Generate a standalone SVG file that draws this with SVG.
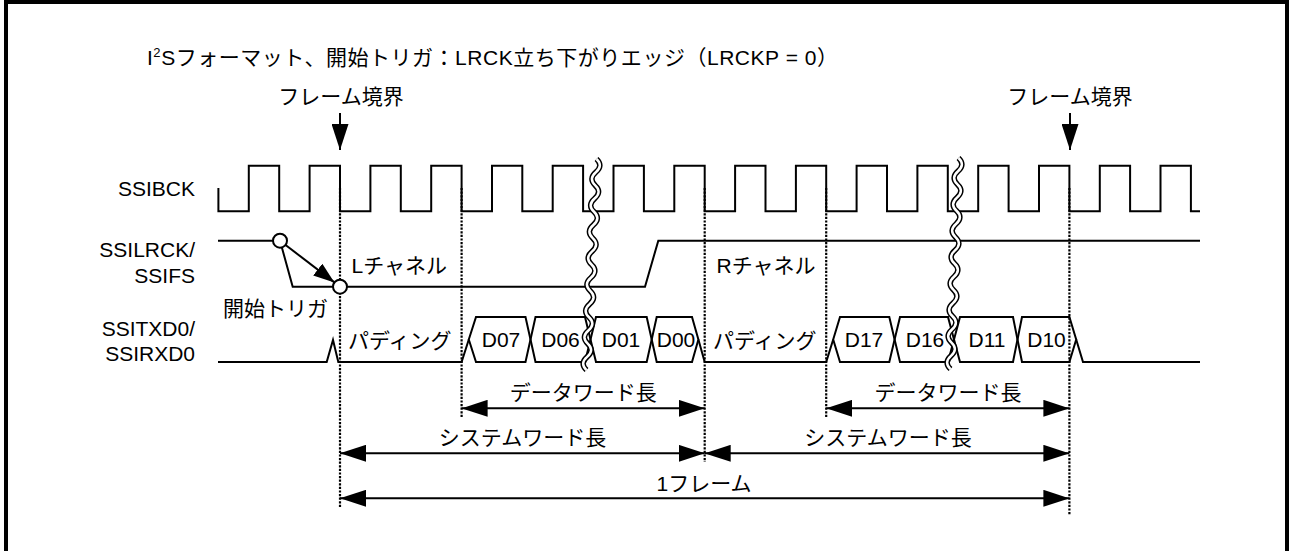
<svg xmlns="http://www.w3.org/2000/svg" width="1291" height="551" viewBox="0 0 1291 551">
<style>
.t{font-family:'Liberation Sans','Noto Sans CJK JP',sans-serif;font-size:21px;fill:#000}
.sig{fill:none;stroke:#000;stroke-width:2;stroke-linejoin:miter}
.hex{fill:none;stroke:#000;stroke-width:2}
.guide{fill:none;stroke:#000;stroke-width:2.2;stroke-dasharray:2.2 1.4}
.dim{fill:none;stroke:#000;stroke-width:2;marker-start:url(#ah);marker-end:url(#ah)}
.wout{fill:none;stroke:#000;stroke-width:5.5}
.win{fill:none;stroke:#fff;stroke-width:2.5}
.circ{fill:#fff;stroke:#000;stroke-width:2}
</style>
<defs>
<marker id="ah" viewBox="0 0 26 17" refX="26" refY="8.5" markerWidth="26" markerHeight="17" markerUnits="userSpaceOnUse" orient="auto-start-reverse"><path d="M0,0 L26,8.5 L0,17 Z" fill="#000"/></marker>
<marker id="ahs" viewBox="0 0 21 15" refX="21" refY="7.5" markerWidth="21" markerHeight="15" markerUnits="userSpaceOnUse" orient="auto"><path d="M0,0 L21,7.5 L0,15 Z" fill="#000"/></marker>
<path id="wave1" d="M596.5,159 q7,6.6 -0.625,13.19 t-0.625,13.19 t-0.625,13.19 t-0.625,13.19 t-0.625,13.19 t-0.625,13.19 t-0.625,13.19 t-0.625,13.19 t-0.625,13.19 t-0.625,13.19 t-0.625,13.19 t-0.625,13.19 t-0.625,13.19 t-0.625,13.19 t-0.625,13.19 t-0.625,13.19"/>
<path id="wave2" d="M958.5,158 q7,6.6 -0.5,13.19 t-0.5,13.19 t-0.5,13.19 t-0.5,13.19 t-0.5,13.19 t-0.5,13.19 t-0.5,13.19 t-0.5,13.19 t-0.5,13.19 t-0.5,13.19 t-0.5,13.19 t-0.5,13.19 t-0.5,13.19 t-0.5,13.19 t-0.5,13.19 t-0.5,13.19"/>
</defs>
<rect width="1291" height="551" fill="#fff"/>
<rect id="frame" x="6" y="2" width="1281" height="580" fill="none" stroke="#000" stroke-width="4"/>

<g id="title">
<text class="t" x="147" y="65" textLength="691" lengthAdjust="spacing">I<tspan font-size="13" dy="-8">2</tspan><tspan dy="8">Sフォーマット、開始トリガ：LRCK立ち下がりエッジ（LRCKP = 0）</tspan></text>
</g>

<g id="signal-labels">
<text class="t" x="195" y="196" text-anchor="end">SSIBCK</text>
<text class="t" x="195" y="256.5" text-anchor="end">SSILRCK/</text>
<text class="t" x="195" y="282.5" text-anchor="end">SSIFS</text>
<text class="t" x="195" y="336" text-anchor="end">SSITXD0/</text>
<text class="t" x="195" y="360.5" text-anchor="end">SSIRXD0</text>
</g>

<g id="frame-boundary-left">
<text class="t" x="341" y="104" text-anchor="middle">フレーム境界</text>
<line x1="340" y1="113" x2="340" y2="150" stroke="#000" stroke-width="2" marker-end="url(#ah)"/>
</g>
<g id="frame-boundary-right">
<text class="t" x="1070" y="104" text-anchor="middle">フレーム境界</text>
<line x1="1070" y1="113" x2="1070" y2="150" stroke="#000" stroke-width="2" marker-end="url(#ah)"/>
</g>

<g id="ssibck">
<path class="sig" d="M218.4,188 V211.3 H248.8 V165.7 H279.2 V211.3 H309.6 V165.7 H340 V211.3 H370.4 V165.7 H400.8 V211.3 H431.2 V165.7 H461.6 V211.3 H492 V165.7 H522.3 V211.3 H552.7 V165.7 H583.1 V211.3 H613.5 V165.7 H643.9 V211.3 H674.3 V165.7 H704.7 V211.3 H735.1 V165.7 H765.5 V211.3 H795.9 V165.7 H826.2 V211.3 H856.6 V165.7 H887 V211.3 H917.4 V165.7 H947.8 V211.3 H978.2 V165.7 H1008.6 V211.3 H1039 V165.7 H1069.4 V211.3 H1099.8 V165.7 H1130.1 V211.3 H1160.5 V165.7 H1190.9 V211.3 H1200"/>
</g>

<g id="guides">
<line class="guide" x1="340" y1="188" x2="340" y2="508"/>
<line class="guide" x1="461.6" y1="188" x2="461.6" y2="417"/>
<line class="guide" x1="704.7" y1="188" x2="704.7" y2="462"/>
<line class="guide" x1="826.2" y1="188" x2="826.2" y2="417"/>
<line class="guide" x1="1069.4" y1="188" x2="1069.4" y2="515"/>
</g>

<g id="ssilrck">
<path class="sig" d="M218,240.7 L280,240.7 L292.7,286.7 L645,286.7 L658.3,240.7 L1200,240.7"/>
<line x1="280" y1="240.7" x2="334.4" y2="282.4" stroke="#000" stroke-width="2" marker-end="url(#ahs)"/>
<circle class="circ" cx="280" cy="240.7" r="7"/>
<circle class="circ" cx="340" cy="286.7" r="7"/>
<text class="t" x="351.5" y="273">Lチャネル</text>
<text class="t" x="716.5" y="273">Rチャネル</text>
<text class="t" x="223" y="316">開始トリガ</text>
</g>

<g id="ssitxd0">
<path class="sig" d="M218,362 L326.7,362 L333,340 L338.3,362 L461.6,362 L468.8,339.5"/>
<path class="hex" d="M468.8,339.5 L476,317 L525.5,317 L530.5,339.5 L525.5,362 L476,362 Z"/>
<path class="hex" d="M530.5,339.5 L535.5,317 L585,317 L590.5,339.5 L585,362 L535.5,362 Z"/>
<path class="hex" d="M590.5,339.5 L596,317 L646.7,317 L651.7,339.5 L646.7,362 L596,362 Z"/>
<path class="hex" d="M651.7,339.5 L656.7,317 L692,317 L698.4,339.5 L692,362 L656.7,362 Z"/>
<path class="sig" d="M698.4,339.5 L704.7,362 L826.2,362 L833.2,339.5"/>
<path class="hex" d="M833.2,339.5 L840,317 L889.3,317 L894.6,339.5 L889.3,362 L840,362 Z"/>
<path class="hex" d="M894.6,339.5 L900,317 L948,317 L954,339.5 L948,362 L900,362 Z"/>
<path class="hex" d="M954,339.5 L960,317 L1013,317 L1017.5,339.5 L1013,362 L960,362 Z"/>
<path class="hex" d="M1017.5,339.5 L1022,317 L1069.4,317 L1076.2,339.5 L1069.4,362 L1022,362 Z"/>
<path class="sig" d="M1076.2,339.5 L1083,362 L1200,362"/>
<text class="t" x="348" y="348">パディング</text>
<text class="t" x="713" y="348">パディング</text>
<text class="t" x="501" y="346.7" text-anchor="middle">D07</text>
<text class="t" x="560.5" y="346.7" text-anchor="middle">D06</text>
<text class="t" x="621" y="346.7" text-anchor="middle">D01</text>
<text class="t" x="676" y="346.7" text-anchor="middle">D00</text>
<text class="t" x="864" y="346.7" text-anchor="middle">D17</text>
<text class="t" x="925" y="346.7" text-anchor="middle">D16</text>
<text class="t" x="987" y="346.7" text-anchor="middle">D11</text>
<text class="t" x="1046.5" y="346.7" text-anchor="middle">D10</text>
</g>

<g id="breaks">
<use href="#wave1" class="wout"/>
<use href="#wave1" class="win"/>
<use href="#wave2" class="wout"/>
<use href="#wave2" class="win"/>
</g>

<g id="connectors">
<line class="dim" x1="461.6" y1="408.3" x2="704.7" y2="408.3"/>
<line class="dim" x1="826.2" y1="408.3" x2="1069.4" y2="408.3"/>
<line class="dim" x1="340" y1="453.3" x2="704.7" y2="453.3"/>
<line class="dim" x1="704.7" y1="453.3" x2="1069.4" y2="453.3"/>
<line class="dim" x1="340" y1="498.3" x2="1069.4" y2="498.3"/>
</g>

<g id="dimension-labels">
<text class="t" x="583.3" y="400" text-anchor="middle">データワード長</text>
<text class="t" x="948" y="400" text-anchor="middle">データワード長</text>
<text class="t" x="522.5" y="445" text-anchor="middle">システムワード長</text>
<text class="t" x="888" y="445" text-anchor="middle">システムワード長</text>
<text class="t" x="704" y="491" text-anchor="middle">1フレーム</text>
</g>
</svg>
